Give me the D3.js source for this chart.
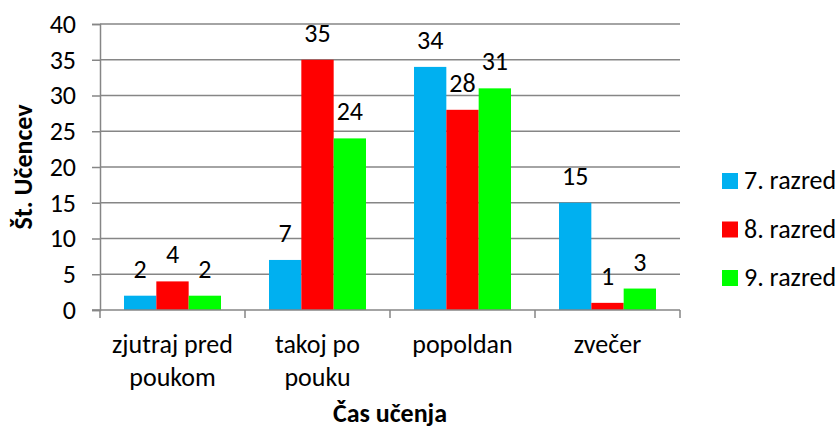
<html>
<head>
<meta charset="utf-8">
<script src="https://d3js.org/d3.v7.min.js"></script>
<style>
    body { margin: 0; background: #fff; }
    svg text { font-family: Carlito, Calibri, Lato, sans-serif; fill: #000; }
</style>
</head>
<body>
<svg width="839" height="428"></svg>
<script>
    // data
    var categories = [['zjutraj pred', 'poukom'], ['takoj po', 'pouku'], ['popoldan'], ['zvečer']];
    var seriesNames = ['7. razred', '8. razred', '9. razred'];
    var razred7 = [2, 7, 34, 15];
    var razred8 = [4, 35, 28, 1];
    var razred9 = [2, 24, 31, 3];
    var yTicks = [0, 5, 10, 15, 20, 25, 30, 35, 40];
    var colors = ['#00B0F0', '#FF0000', '#00FF00'];

    var svg = d3.select('svg');
    var plotLeft = 100, plotRight = 680, plotTop = 24, plotBottom = 310;
    var fontSize = 26;

    var catKeys = categories.map(function (c) { return c.join(' '); });
    var series = [razred7, razred8, razred9];

    var x0 = d3.scaleBand().domain(catKeys).range([plotLeft, plotRight]).padding(0);
    var x1 = d3.scaleBand().domain(seriesNames).range([24, x0.bandwidth() - 24]).padding(0);
    var y = d3.scaleLinear().domain([0, 40]).range([plotBottom, plotTop]);

    // gridlines
    svg.append('g')
        .selectAll('line')
        .data(yTicks.slice(1))
        .enter()
        .append('line')
        .attr('x1', plotLeft).attr('x2', plotRight)
        .attr('y1', function (d) { return y(d); })
        .attr('y2', function (d) { return y(d); })
        .style('stroke', '#868686')
        .style('stroke-width', 1.5);

    // y axis
    var yAxis = svg.append('g')
        .attr('transform', 'translate(' + plotLeft + ',0)')
        .call(d3.axisLeft(y).tickValues(yTicks).tickSize(8).tickPadding(16));
    yAxis.selectAll('line, path').style('stroke', '#868686').style('stroke-width', 1.5);
    yAxis.selectAll('text').style('font-size', fontSize + 'px').style('font-family', null);

    // bars
    var groups = svg.append('g')
        .selectAll('g')
        .data(seriesNames)
        .enter()
        .append('g');

    function rows(s, si) {
        return series[si].map(function (v, ci) { return { s: s, si: si, cat: catKeys[ci], v: v }; });
    }

    groups.selectAll('rect')
        .data(rows)
        .enter()
        .append('rect')
        .attr('x', function (d) { return x0(d.cat) + x1(d.s); })
        .attr('y', function (d) { return y(d.v); })
        .attr('width', x1.bandwidth())
        .attr('height', function (d) { return y(0) - y(d.v); })
        .style('fill', function (d) { return colors[d.si]; });

    groups.selectAll('text')
        .data(rows)
        .enter()
        .append('text')
        .attr('x', function (d) { return x0(d.cat) + x1(d.s) + x1.bandwidth() / 2; })
        .attr('y', function (d) { return y(d.v) - 18; })
        .attr('text-anchor', 'middle')
        .style('font-size', fontSize + 'px')
        .text(function (d) { return d.v; });

    // x axis
    var xAxis = svg.append('g')
        .attr('transform', 'translate(0,' + plotBottom + ')');
    xAxis.append('line')
        .attr('x1', plotLeft - 8).attr('x2', plotRight)
        .style('stroke', '#868686').style('stroke-width', 1.5);
    xAxis.selectAll('line.tick')
        .data(d3.range(catKeys.length + 1))
        .enter()
        .append('line')
        .attr('class', 'tick')
        .attr('x1', function (i) { return plotLeft + i * x0.step(); })
        .attr('x2', function (i) { return plotLeft + i * x0.step(); })
        .attr('y1', 0).attr('y2', 8)
        .style('stroke', '#868686').style('stroke-width', 1.5);

    var catLabels = svg.append('g')
        .selectAll('text')
        .data(categories)
        .enter()
        .append('text')
        .attr('text-anchor', 'middle')
        .style('font-size', fontSize + 'px');
    catLabels.selectAll('tspan')
        .data(function (c, i) { return c.map(function (line) { return { line: line, key: catKeys[i] }; }); })
        .enter()
        .append('tspan')
        .attr('x', function (d) { return x0(d.key) + x0.bandwidth() / 2; })
        .attr('y', function (d, j) { return 353 + j * 33; })
        .text(function (d) { return d.line; });

    // axis titles
    svg.append('text')
        .attr('x', (plotLeft + plotRight) / 2)
        .attr('y', 422)
        .attr('text-anchor', 'middle')
        .style('font-size', fontSize + 'px')
        .style('font-weight', 'bold')
        .text('Čas učenja');

    svg.append('text')
        .attr('transform', 'translate(32,' + (plotTop + plotBottom) / 2 + ') rotate(-90)')
        .attr('text-anchor', 'middle')
        .style('font-size', fontSize + 'px')
        .style('font-weight', 'bold')
        .text('Št. Učencev');

    // legend
    var legend = svg.append('g')
        .selectAll('g')
        .data(seriesNames)
        .enter()
        .append('g')
        .attr('transform', function (d, i) { return 'translate(722,' + (181 + i * 48.5) + ')'; });
    legend.append('rect')
        .attr('x', 0).attr('y', -8)
        .attr('width', 16).attr('height', 16)
        .style('fill', function (d, i) { return colors[i]; });
    legend.append('text')
        .attr('x', 22).attr('y', 8)
        .style('font-size', fontSize + 'px')
        .text(function (d) { return d; });
</script>
</body>
</html>
